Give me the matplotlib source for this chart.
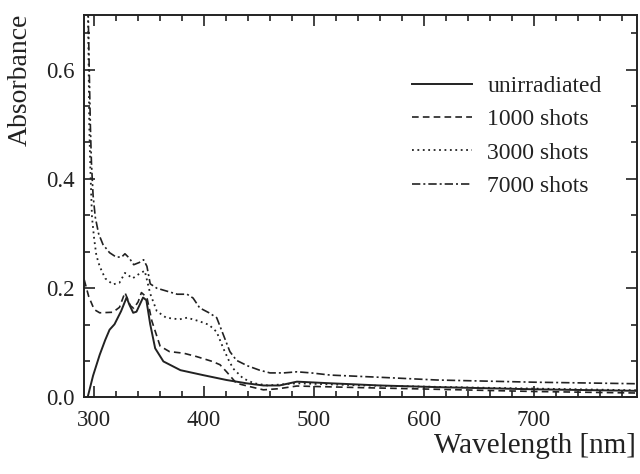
import matplotlib
matplotlib.use("Agg")
import matplotlib.pyplot as plt
from matplotlib.ticker import MultipleLocator

# absorbance spectra (wavelength in nm)
wl_unirr = [294, 299, 305, 310, 314, 318.5, 324.5, 329.5, 332, 335.5, 338.5, 341.5, 344.5, 347.5, 351,
            355.5, 363, 378.5, 399, 420.5, 438.5, 454, 468.5, 484.5, 515, 560, 612, 700, 800]
abs_unirr = [0.0, 0.04, 0.078, 0.105, 0.124, 0.134, 0.158, 0.183, 0.17, 0.155, 0.157, 0.17, 0.183,
             0.178, 0.134, 0.09, 0.066, 0.05, 0.041, 0.032, 0.026, 0.022, 0.022, 0.029, 0.026,
             0.022, 0.019, 0.015, 0.012]

wl_1000 = [291, 295, 300, 305, 317, 323, 328, 333, 336, 340, 343, 348, 352.5,
           360, 368.5, 381.5, 393, 407.5, 414.5, 420.5, 429.5, 441.5, 454, 467.5, 484.5, 544,
           612, 700, 800]
abs_1000 = [0.215, 0.185, 0.161, 0.155, 0.156, 0.165, 0.192, 0.168, 0.163, 0.175, 0.192, 0.183, 0.14,
            0.094, 0.084, 0.081, 0.075, 0.066, 0.06, 0.047, 0.026, 0.02, 0.014, 0.016, 0.021, 0.018,
            0.015, 0.011, 0.008]

wl_3000 = [294.3, 295, 295.5, 296.5, 298, 300, 302, 305, 310, 317, 323, 328, 335,
           340, 346, 351, 357, 365.5, 377.5, 384.5, 395, 404.5, 411.5, 417.5, 422.5, 426.5,
           435.5, 445.5, 458, 484.5, 546, 650, 800]
abs_3000 = [0.71, 0.6, 0.5, 0.42, 0.33, 0.29, 0.26, 0.24, 0.218, 0.207, 0.21, 0.228, 0.218, 0.225,
            0.232, 0.19, 0.158, 0.146, 0.143, 0.146, 0.14, 0.133, 0.12, 0.09, 0.068, 0.053, 0.035,
            0.026, 0.022, 0.026, 0.022, 0.018, 0.013]

wl_7000 = [294.5, 295.5, 296.5, 297.5, 299, 301, 304, 308, 314, 320, 325, 328, 332, 336,
           341, 345, 348, 351, 357, 365.5, 375.5, 384.5, 390, 396, 404.5, 411.5, 417.5,
           423.5, 429.5, 439.5, 450.5, 460, 472.5, 484.5, 497.5, 515, 560, 612, 700, 800]
abs_7000 = [0.71, 0.6, 0.5, 0.43, 0.37, 0.33, 0.3, 0.28, 0.265, 0.257, 0.257, 0.263, 0.255, 0.243,
            0.247, 0.252, 0.24, 0.208, 0.2, 0.195, 0.189, 0.189, 0.182, 0.164, 0.155, 0.146, 0.115,
            0.084, 0.068, 0.058, 0.05, 0.045, 0.045, 0.047, 0.045, 0.041, 0.037, 0.032, 0.028, 0.025]

labels = ["unirradiated", "1000 shots", "3000 shots", "7000 shots"]

ink = "#222222"
plt.rcParams["font.family"] = ["Liberation Serif", "DejaVu Serif"]

fig = plt.figure(figsize=(6.4, 4.74), dpi=100)
ax = fig.add_axes([0.1317, 0.1614, 0.8636, 0.807])

ax.plot(wl_unirr, abs_unirr, color=ink, lw=1.4, label=labels[0])
ax.plot(wl_1000, abs_1000, color=ink, lw=1.2, dashes=(4, 2.5), label=labels[1])
ax.plot(wl_3000, abs_3000, color=ink, lw=1.3, dashes=(1, 2), label=labels[2])
ax.plot(wl_7000, abs_7000, color=ink, lw=1.2, dashes=(5, 1.8, 1.2, 1.8), label=labels[3])

ax.set_xlim(291, 794)
ax.set_ylim(0, 0.70)
ax.xaxis.set_minor_locator(MultipleLocator(20))
ax.yaxis.set_minor_locator(MultipleLocator(0.2 / 3))
ax.set_xticks([300, 400, 500, 600, 700])
ax.set_xticklabels(["300", "400", "500", "600", "700"])
ax.set_yticks([0.0, 0.2, 0.4, 0.6])
ax.set_yticklabels(["0.0", "0.2", "0.4", "0.6"])

ax.tick_params(which="both", direction="in", top=True, right=True, colors=ink,
               labelsize=16.5, width=1.2)
ax.tick_params(which="major", length=8, pad=7)
ax.tick_params(axis="x", which="major", pad=9)
ax.tick_params(which="minor", length=4.5)
for spine in ax.spines.values():
    spine.set_linewidth(1.4)
    spine.set_color(ink)

leg = ax.legend(loc="upper left", bbox_to_anchor=(0.593, 0.842), frameon=False, fontsize=17,
                handlelength=2.55, handletextpad=0.64, labelspacing=0.5, borderaxespad=0,
                borderpad=0)
for t in leg.get_texts():
    t.set_color(ink)

fig.text(0.031, 1 - 80 / 474, "Absorbance", rotation=90, ha="center", va="center",
         fontsize=20, color=ink)
fig.text(0.993, 1 - 446 / 474, "Wavelength [nm]", ha="right", va="center",
         fontsize=21, color=ink)

fig.savefig("out.png", dpi=100, facecolor="white")
